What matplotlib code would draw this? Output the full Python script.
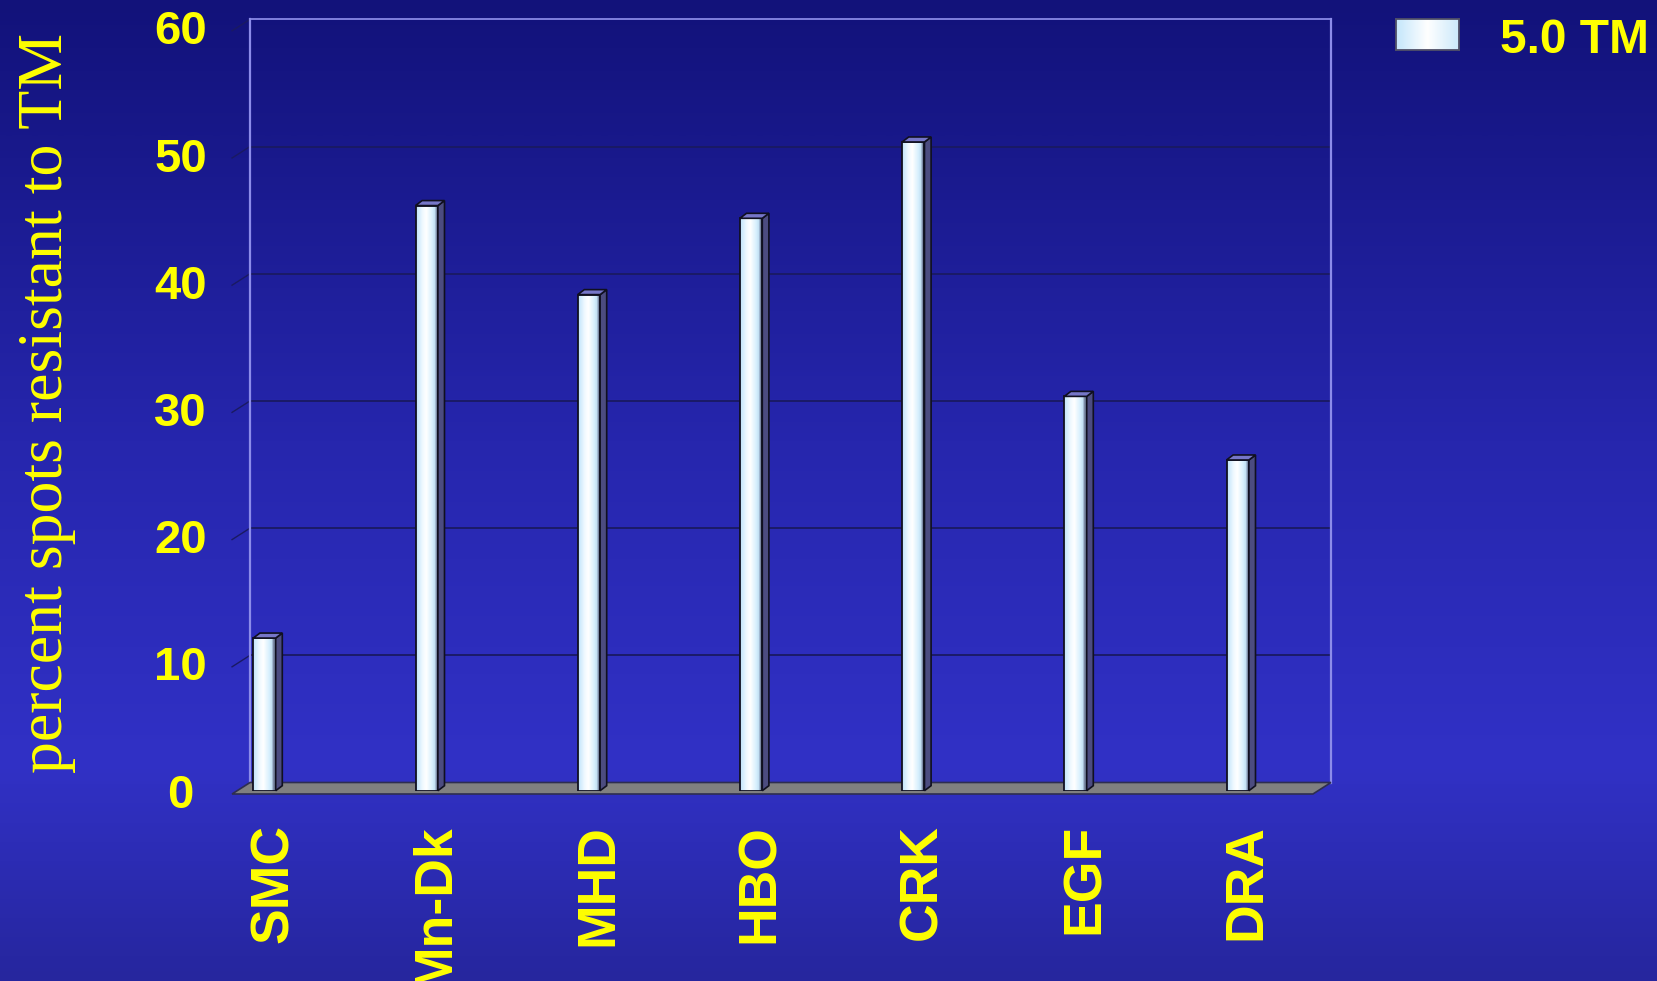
import numpy as np
import matplotlib
matplotlib.use('Agg')
import matplotlib.pyplot as plt
from matplotlib.transforms import Affine2D, IdentityTransform
from matplotlib.colors import LinearSegmentedColormap
from matplotlib.patches import Polygon
from matplotlib.lines import Line2D

# ---------------- data ----------------
categories = ['SMC', 'Mn-Dk', 'MHD', 'HBO', 'CRK', 'EGF', 'DRA']
values = [12, 46, 39, 45, 51, 31, 26]
series_name = '5.0 TM'
y_ticks = [0, 10, 20, 30, 40, 50, 60]
y_label = 'percent spots resistant to TM'

# ---------------- layout ----------------
W, H = 1657, 981
DPI = 100
plt.rcParams['font.family'] = ['Liberation Sans', 'DejaVu Sans']
YELLOW = '#ffff00'

fig = plt.figure(figsize=(W / DPI, H / DPI), dpi=DPI)

# background gradient
bg = fig.add_axes([0, 0, 1, 1], zorder=-10)
bg_cmap = LinearSegmentedColormap.from_list(
    'bg', [(0, '#12127a'), (0.45, '#2626ad'), (0.78, '#3131c6'), (1.0, '#26269e')])
bg.imshow(np.linspace(0, 1, 256).reshape(-1, 1), cmap=bg_cmap, aspect='auto',
          extent=(0, 1, 0, 1), interpolation='bilinear')
bg.set_axis_off()

# main axes = front plane of bars
left_px, right_px, top_px, bottom_px = 183.4, 1318.8, 27.5, 790.7
ax = fig.add_axes([left_px / W, (H - bottom_px) / H,
                   (right_px - left_px) / W, (bottom_px - top_px) / H])
ax.set_xlim(-0.5, 6.5)
ax.set_ylim(0, 60)
ax.patch.set_alpha(0)
for s in ax.spines.values():
    s.set_visible(False)

back_off = np.array([12.8, 8.2])        # front plane -> back wall (display px)
floor_depth = np.array([-18.0, -11.5])  # back edge -> front edge of floor
bar_depth = np.array([6.6, 5.0])
wall_x0, wall_x1 = -0.168, 6.496
bar_w = 0.138


def disp(x, y, off=(0, 0)):
    return ax.transData.transform((x, y)) + np.asarray(off)


ID = IdentityTransform()

# back wall gridlines and side ticks
for v in y_ticks[1:]:
    p0 = disp(wall_x0, v, back_off)
    p1 = disp(wall_x1, v, back_off)
    col = '#8888e6' if v == y_ticks[-1] else '#1a1a62'
    ax.add_line(Line2D([p0[0], p1[0]], [p0[1], p1[1]], color=col, lw=1.3,
                       transform=ID, clip_on=False, zorder=1))
    q = p0 + floor_depth
    ax.add_line(Line2D([p0[0], q[0]], [p0[1], q[1]], color='#1a1a62', lw=1.0,
                       transform=ID, clip_on=False, zorder=1))

# wall borders (left, right)
for xw in (wall_x0, wall_x1):
    p0 = disp(xw, 0, back_off)
    p1 = disp(xw, y_ticks[-1], back_off)
    ax.add_line(Line2D([p0[0], p1[0]], [p0[1], p1[1]], color='#8c8cea', lw=1.6,
                       transform=ID, clip_on=False, zorder=1))

# floor
bl = disp(wall_x0, 0, back_off)
br = disp(wall_x1, 0, back_off)
floor = Polygon([bl, br, br + floor_depth, bl + floor_depth], closed=True,
                facecolor='#808080', edgecolor='#2e2e50', lw=1.2,
                transform=ID, clip_on=False, zorder=2)
ax.add_patch(floor)

# bars
x = np.arange(len(categories))
bars = ax.bar(x, values, width=bar_w, facecolor='none', edgecolor='#101020',
              lw=1.3, zorder=5)
bar_cmap = LinearSegmentedColormap.from_list(
    'bar', [(0, '#bfe3fb'), (0.3, '#f2faff'), (0.45, '#ffffff'), (0.72, '#d6effd'),
            (0.84, '#c0def2'), (0.87, '#7f8ea8'), (1.0, '#6c7a94')])
row = np.linspace(0, 1, 128).reshape(1, -1)
for xi, v, patch in zip(x, values, bars.patches):
    x0, x1 = xi - bar_w / 2, xi + bar_w / 2
    im = ax.imshow(row, cmap=bar_cmap, extent=(x0, x1, 0, v), aspect='auto',
                   interpolation='bilinear', zorder=4)
    im.set_clip_path(patch)
    a0, a1 = disp(x1, 0), disp(x1, v)
    side = Polygon([a0, a1, a1 + bar_depth, a0 + bar_depth], closed=True,
                   facecolor='#4c4c80', edgecolor='#101020', lw=1.2,
                   transform=ID, clip_on=False, zorder=5)
    ax.add_patch(side)
    t0, t1 = disp(x0, v), disp(x1, v)
    top = Polygon([t0, t1, t1 + bar_depth, t0 + bar_depth], closed=True,
                  facecolor='#7676c8', edgecolor='#101020', lw=1.2,
                  transform=ID, clip_on=False, zorder=5)
    ax.add_patch(top)
ax.set_xlim(-0.5, 6.5)
ax.set_ylim(0, 60)
ax.set_aspect('auto')

# y ticks
ax.set_yticks(y_ticks)
ax.set_yticklabels([str(t) for t in y_ticks], fontsize=34, fontweight='bold',
                   color=YELLOW)
for lbl in ax.get_yticklabels():
    lbl.set_horizontalalignment('center')
ax.tick_params(axis='y', length=0, pad=1.9)

# x ticks
ax.set_xticks(x)
ax.set_xticklabels(categories, rotation=90, fontsize=38.5, fontweight='bold',
                   color=YELLOW, va='top', ha='center')
ax.tick_params(axis='x', length=0, pad=24.0)
for lbl in ax.get_xticklabels():
    lbl.set_transform(lbl.get_transform() + Affine2D().translate(9, 0))

# y label
fig.text(47.5 / W, 1 - 403 / H, y_label, rotation=90, fontsize=46,
         family=['Liberation Serif', 'DejaVu Serif'], color=YELLOW,
         ha='center', va='center')

# legend
lax = fig.add_axes([1396 / W, (H - 50) / H, 63 / W, 31 / H])
leg_cmap = LinearSegmentedColormap.from_list(
    'leg', [(0, '#c4e6fb'), (0.5, '#ffffff'), (1.0, '#cce9fb')])
lax.imshow(row, cmap=leg_cmap, aspect='auto', interpolation='bilinear')
lax.set_xticks([])
lax.set_yticks([])
for s in lax.spines.values():
    s.set_color('#505068')
    s.set_linewidth(1.3)
fig.text(1500 / W, 1 - 53.3 / H, series_name, fontsize=34.5, fontweight='bold',
         color=YELLOW, ha='left', va='baseline')

fig.savefig('out.png', dpi=DPI)
